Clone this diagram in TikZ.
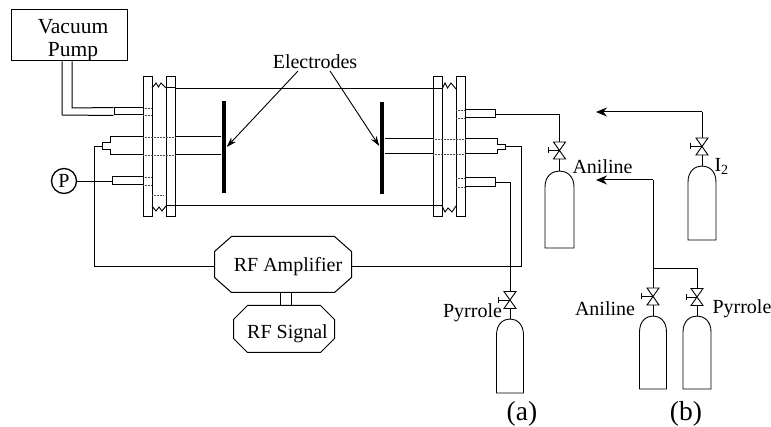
\documentclass[tikz,border=0pt]{standalone}
\usepackage{fontspec}
\setmainfont{Liberation Serif}
\usetikzlibrary{arrows.meta,calc}
\tikzset{
  every picture/.style={line width=1pt,line join=miter},
  lbl/.style={inner sep=0pt,font=\fontsize{20}{23}\selectfont,align=center},
  figcap/.style={inner sep=0pt,font=\fontsize{27.5}{30}\selectfont},
  box/.style={draw,rectangle,inner sep=0pt},
  port/.style={box,fill=white},
  oct/.style={inner sep=0pt},
  faint/.style={line width=0.5pt,densely dotted,black!70},
  bigarrow/.style={-{Stealth[length=11pt,width=9pt]},line width=1pt},
  thinarrow/.style={-{Stealth[length=10pt,width=6.5pt]},line width=0.9pt},
  thinline/.style={line width=0.9pt}
}
% name, x centre, valve centre y, handle offset, half width, dome top, bottom
\newcommand{\gasbottle}[7]{%
  \coordinate (#1) at (#2,#3);
  \coordinate (#1-t) at (#2,#3-8.5);
  \draw[thinline] (#2-6,#3-8.5) -- (#2+6,#3+8.5) -- (#2-6,#3+8.5) -- (#2+6,#3-8.5) -- cycle;
  \draw[thinline] (#2,#3) -- (#2-#4,#3);
  \draw[thinline] (#2-#4,#3-3) -- (#2-#4,#3+3);
  \draw[thinline] (#2,#3+8.5) -- (#2,#6);
  \draw[thinline] (#2-#5,#7) -- (#2-#5,#6+16) .. controls (#2-#5,#6+5) and (#2-#5*0.5,#6) .. (#2,#6)
     .. controls (#2+#5*0.5,#6) and (#2+#5,#6+5) .. (#2+#5,#6+16) -- (#2+#5,#7) -- cycle;
}
% node name, horizontal chamfer, vertical chamfer
\newcommand{\octoutline}[3]{%
  \draw ($(#1.north west)+(#2pt,0pt)$) -- ($(#1.north east)+(-#2pt,0pt)$)
     -- ($(#1.north east)+(0pt,-#3pt)$) -- ($(#1.south east)+(0pt,#3pt)$)
     -- ($(#1.south east)+(-#2pt,0pt)$) -- ($(#1.south west)+(#2pt,0pt)$)
     -- ($(#1.south west)+(0pt,#3pt)$) -- ($(#1.north west)+(0pt,-#3pt)$) -- cycle;
}
\begin{document}
\begin{tikzpicture}[x=1pt,y=-1pt]
\useasboundingbox (0,0) rectangle (771,427);

% Pump
\node[box,minimum width=116pt,minimum height=51pt] (pump) at (69,35.5) {};
\node[lbl,font=\fontsize{21.5}{23}\selectfont] (pumpt) at (73,40.5) {Vacuum\\Pump};

% Flanges
\node[box,minimum width=9pt,minimum height=140pt] (fl1) at (147.5,147) {};
\node[box,minimum width=9pt,minimum height=140pt] (fl2) at (170.5,146.5) {};
\node[box,minimum width=9pt,minimum height=140pt] (fr1) at (437.5,147) {};
\node[box,minimum width=9pt,minimum height=140pt] (fr2) at (460.5,147) {};

% Tube walls
\draw (fl2.east |- 0,88.5) coordinate (tl) -- (fr1.east |- 0,88.5) coordinate (tr);
\draw (fl2.east |- 0,206) coordinate (bl) -- (fr1.east |- 0,206) coordinate (br);
\draw (166,88) -- (175,88) (166,206) -- (175,206) (433,206) -- (442,206);

% Bellows
\draw[thinline] (152,88) -- (156,83) -- (158.5,87) -- (161,83) -- (166,88);
\draw[thinline] (152,206) -- (156,211) -- (159,207) -- (162,211) -- (166,206);
\draw[thinline] (442,89) -- (445,83) -- (447.5,88) -- (451,83) -- (456,89);
\draw[thinline] (442,206) -- (445,212) -- (448,208) -- (452,212) -- (456,206);

% Electrodes
\node[fill=black,minimum width=4.5pt,minimum height=92pt,inner sep=0pt] (el) at (224,147) {};
\node[fill=black,minimum width=4.5pt,minimum height=92pt,inner sep=0pt] (er) at (382,148) {};

% Rods through the flanges
\draw (el.west |- 0,137) -- (175,137) (el.west |- 0,155) -- (175,155);
\draw[faint] (175,137) -- (143,137) (175,155) -- (143,155);
\draw (143,137) -- (110,137) -- (110,143) -- (102,143) -- (102,150) -- (110,150) -- (110,155) -- (143,155);
\draw (er.east |- 0,139) -- (433,139) (er.east |- 0,154) -- (433,154);
\draw[faint] (433,139) -- (465,139) (433,154) -- (465,154);
\draw (465,139) -- (497,139) -- (497,145) -- (505,145) -- (505,150) -- (497,150) -- (497,154) -- (465,154);

% Faint lines in flanges
\draw[faint] (143,108) -- (152,108) (143,115) -- (152,115) (143,177) -- (152,177) (143,185) -- (152,185)
  (152,195) -- (163,195) (456,110) -- (465,110) (456,118) -- (465,118) (456,178) -- (465,178) (456,187) -- (465,187);

% Ports
\node[port,minimum width=29pt,minimum height=7pt] (pl1) at (128.5,111.5) {};
\node[port,minimum width=31pt,minimum height=8pt] (pl2) at (127.5,181) {};
\node[port,minimum width=30pt,minimum height=8pt] (pr1) at (480,114) {};
\node[port,minimum width=30pt,minimum height=9pt] (pr2) at (480,182.5) {};

% Pump pipe
\draw (pump.south -| 62,0) -- (62,115) -- (pl1.south west);
\draw (pump.south -| 72,0) -- (72,108) -- (pl1.north west);

% Pressure gauge
\node[draw,circle,minimum size=25pt,inner sep=0pt,line width=1.3pt,font=\fontsize{20}{22}\selectfont] (gauge) at (64,181) {P};
\draw[thinline] (gauge) -- (pl2);

% RF
\node[oct,minimum width=136pt,minimum height=55pt] (amp) at (283,264.5) {};
\octoutline{amp}{17}{15}
\node[lbl] (ampt) at (288,266.5) {RF Amplifier};
\node[oct,minimum width=100pt,minimum height=46pt] (sig) at (284,329) {};
\octoutline{sig}{14}{14}
\node[lbl] (sigt) at (287.5,334) {RF Signal};
\draw (280,292) -- (280,306) (291,292) -- (291,306);
\draw (102,146.5) -- (94,146.5) -- (94,267) -- (215,267);
\draw (505,147) -- (521,147) -- (521,267) -- (351,267);

% Bottles
\gasbottle{an}{559.5}{150.5}{11}{14.5}{171}{248}
\gasbottle{py}{510}{300}{12}{13.5}{319}{393}
\gasbottle{iod}{702}{146.5}{12}{14}{166}{240}
\gasbottle{anb}{653}{296.5}{12}{13.5}{316}{389}
\gasbottle{pyb}{697}{297}{11}{14}{316}{389}

% Gas lines
\draw[thinline] (pr1.east) -- (an-t |- pr1.east) -- (an-t);
\draw[thinline] (pr2.east) -- (py-t |- pr2.east) -- (py-t);
\draw[bigarrow] (702,112) coordinate (ic) -- (596,112) coordinate (it);
\draw[thinline] (ic) -- (iod-t);
\draw[bigarrow] (653,180) coordinate (ac) -- (596,180) coordinate (at);
\draw[thinline] (ac) -- (anb-t);
\draw[thinline] (653,268) -- (pyb-t |- 0,268) -- (pyb-t);

% Electrode arrows
\coordinate (ea) at (298,71);
\coordinate (eb) at (330,71);
\draw[thinarrow] (ea) -- (el.east |- 0,147);
\draw[thinarrow] (eb) -- (er.west |- 0,146);

% Labels
\node[lbl] (telec) at (315,62) {Electrodes};
\node[lbl,anchor=west] (tan) at (572,167) {Aniline};
\node[lbl,anchor=west] (ti) at (714,166.5) {I\textsubscript{2}};
\node[lbl,anchor=east] (tanb) at (635.5,309) {Aniline};
\node[lbl,anchor=west] (tpyb) at (712,309) {Pyrrole};
\node[lbl,anchor=east] (tpya) at (502.5,313) {Pyrrole};
\node[figcap] (ca) at (522,414) {(a)};
\node[figcap] (cb) at (686,414) {(b)};
\end{tikzpicture}
\end{document}
